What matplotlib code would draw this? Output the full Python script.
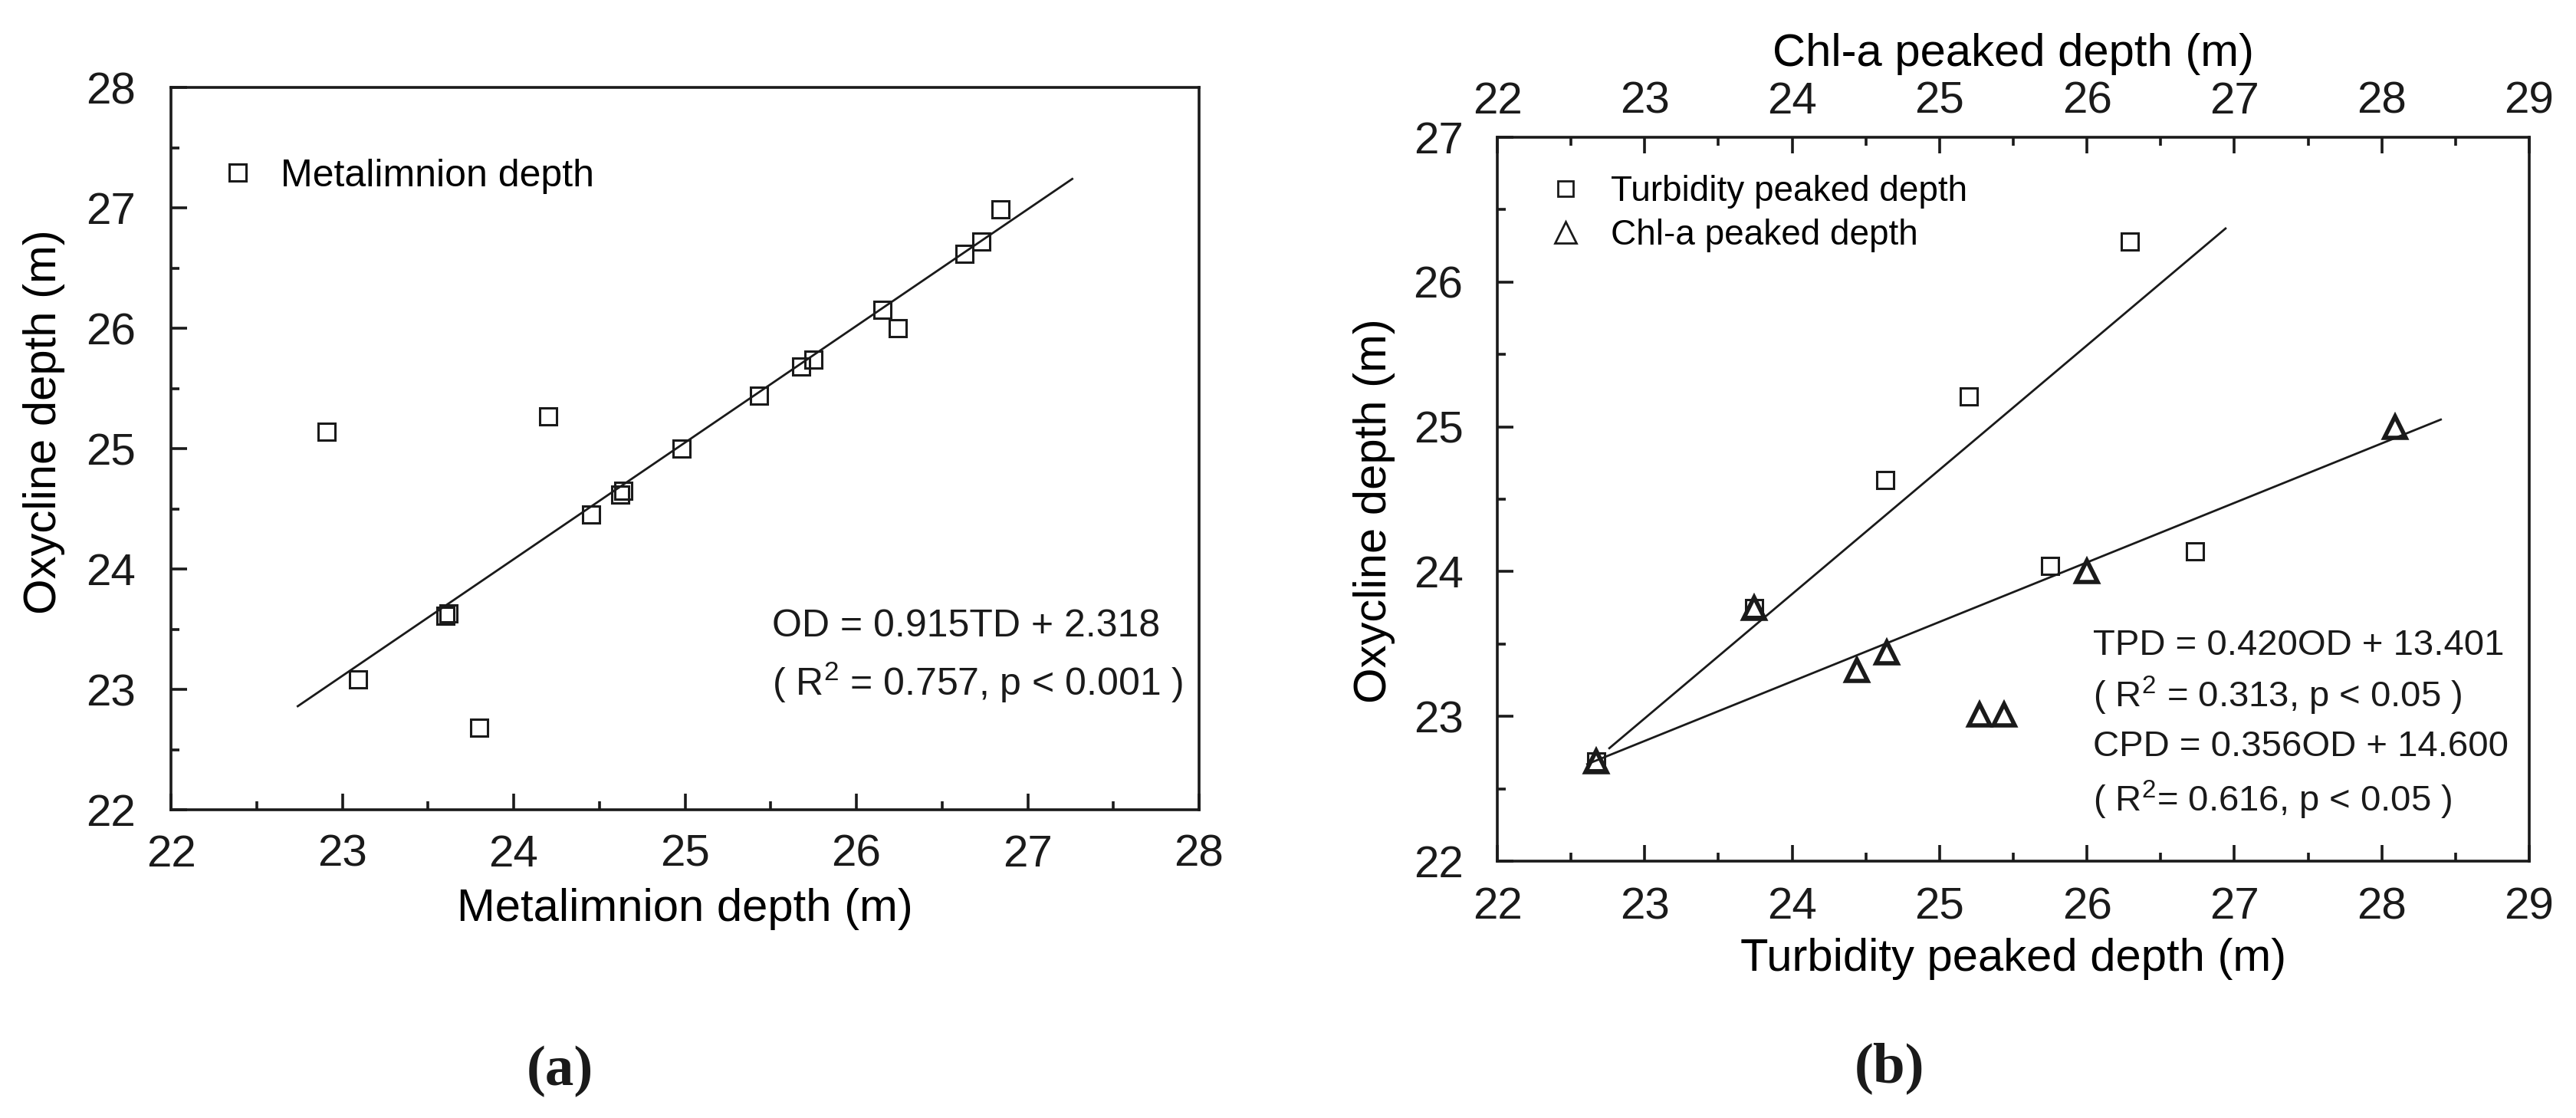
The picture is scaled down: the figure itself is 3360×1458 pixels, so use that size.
import matplotlib
matplotlib.use("Agg")
import matplotlib.pyplot as plt
from matplotlib.lines import Line2D
from matplotlib.ticker import MultipleLocator

plt.rcParams['font.family'] = ['Liberation Sans', 'DejaVu Sans']
plt.rcParams['mathtext.fontset'] = 'custom'
plt.rcParams['mathtext.rm'] = 'Liberation Sans'
plt.rcParams['mathtext.it'] = 'Liberation Sans:italic'

# ---------------- data: panel (a) ----------------
meta_x = [22.91, 23.09, 23.60, 23.62, 23.80, 24.20, 24.45, 24.62, 24.64, 24.98,
          25.43, 25.68, 25.75, 26.15, 26.24, 26.63, 26.73, 26.84]
meta_y = [25.14, 23.08, 23.61, 23.63, 22.68, 25.27, 24.45, 24.62, 24.65, 25.00,
          25.44, 25.68, 25.74, 26.15, 26.00, 26.62, 26.72, 26.99]
fit_a_x = [22.74, 27.26]
fit_a_y = [22.86, 27.24]

# ---------------- data: panel (b) ----------------
turb_x = [22.67, 23.74, 24.63, 25.20, 25.75, 26.29, 26.73]
turb_y = [22.69, 23.75, 24.63, 25.21, 24.04, 26.28, 24.14]
chl_x = [22.67, 23.74, 24.44, 24.64, 25.27, 25.44, 26.00, 28.09]
chl_y = [22.69, 23.75, 23.32, 23.44, 23.01, 23.01, 24.00, 25.00]
fit_turb_x = [22.76, 26.94]
fit_turb_y = [22.78, 26.37]
fit_chl_x = [22.61, 28.40]
fit_chl_y = [22.67, 25.05]

ticks_a = [22, 23, 24, 25, 26, 27, 28]
ticks_bx = [22, 23, 24, 25, 26, 27, 28, 29]
ticks_by = [22, 23, 24, 25, 26, 27]

eq_a = ["OD = 0.915TD + 2.318", "( R$^2$ = 0.757, p < 0.001 )"]
eq_b = ["TPD = 0.420OD + 13.401", "( R$^2$ = 0.313, p < 0.05 )",
        "CPD = 0.356OD + 14.600", "( R$^2$= 0.616, p < 0.05 )"]

INK = '#1a1a1a'
W, H = 3360, 1458
fig = plt.figure(figsize=(W / 200, H / 200), dpi=200)


def px_axes(l, r, t, b):
    return [l / W, 1 - b / H, (r - l) / W, (b - t) / H]


def style(ax, top=False):
    for s in ax.spines.values():
        s.set_linewidth(1.3)
        s.set_color(INK)
    ax.tick_params(which='both', direction='in', width=1.3, color=INK,
                   labelcolor=INK, top=False, right=False)
    ax.tick_params(which='major', length=7.5)
    ax.tick_params(which='minor', length=4)
    ax.xaxis.set_minor_locator(MultipleLocator(0.5))
    ax.yaxis.set_minor_locator(MultipleLocator(0.5))


# ---------------- panel (a) ----------------
ax = fig.add_axes(px_axes(223, 1564, 114, 1056))
style(ax)
ax.set_xlim(22, 28)
ax.set_ylim(22, 28)
ax.set_xticks(ticks_a)
ax.set_yticks(ticks_a)
ax.tick_params(axis='x', labelsize=21, pad=11.5)
ax.tick_params(axis='y', labelsize=21, pad=16.5)
ax.plot(fit_a_x, fit_a_y, color=INK, lw=1.0, zorder=2)
ax.plot(meta_x, meta_y, ls='none', marker='s', ms=8, mfc='none', mec=INK,
        mew=1.1, zorder=3)
ax.set_xlabel("Metalimnion depth (m)", fontsize=21.5)
ax.set_ylabel("Oxycline depth (m)", fontsize=21.5)
ax.xaxis.set_label_coords(0.5, -0.108)
ax.yaxis.set_label_coords(-0.103, 0.537)
h_a = [Line2D([], [], ls='none', marker='s', ms=8, mfc='none', mec=INK, mew=1.1)]
ax.legend(h_a, ["Metalimnion depth"], loc='center left', frameon=False,
          bbox_to_anchor=(0.046, 0.877), fontsize=18, borderpad=0,
          borderaxespad=0, handlelength=1.0, handletextpad=0.62)
for txt, yy in zip(eq_a, [23.52, 23.06]):
    ax.text(25.51, yy, txt, fontsize=18, color=INK, ha='left', va='center')

# ---------------- panel (b) ----------------
bx = fig.add_axes(px_axes(1953, 3299, 179, 1123))
style(bx)
bx.set_xlim(22, 29)
bx.set_ylim(22, 27)
bx.set_xticks(ticks_bx)
bx.set_yticks(ticks_by)
bx.tick_params(axis='x', labelsize=21, pad=12)
bx.tick_params(axis='y', labelsize=21, pad=16)
bx.plot(fit_turb_x, fit_turb_y, color=INK, lw=1.0, zorder=2)
bx.plot(turb_x, turb_y, ls='none', marker='s', ms=8, mfc='none', mec=INK,
        mew=1.1, zorder=3)
bx.set_xlabel("Turbidity peaked depth (m)", fontsize=21.5)
bx.set_ylabel("Oxycline depth (m)", fontsize=21.5)
bx.xaxis.set_label_coords(0.5, -0.106)
bx.yaxis.set_label_coords(-0.0988, 0.484)

tx = bx.twiny()
tx.set_xlim(22, 29)
tx.set_xticks(ticks_bx)
tx.xaxis.set_minor_locator(MultipleLocator(0.5))
for s in tx.spines.values():
    s.set_visible(False)
tx.tick_params(which='both', direction='in', width=1.3, color=INK,
               labelcolor=INK, top=True, bottom=False, labelsize=21, pad=7)
tx.tick_params(which='major', length=7.5)
tx.tick_params(which='minor', length=4)
tx.plot(fit_chl_x, fit_chl_y, color=INK, lw=1.0, zorder=2)
tx.plot(chl_x, chl_y, ls='none', marker='^', ms=10, mfc='none', mec=INK,
        mew=2.0, zorder=4)
tx.set_xlabel("Chl-a peaked depth (m)", fontsize=21.5)
tx.xaxis.set_label_coords(0.5, 1.0985)
tx.set_ylim(22, 27)

h_b = [Line2D([], [], ls='none', marker='s', ms=7.5, mfc='none', mec=INK, mew=1.0),
       Line2D([], [], ls='none', marker='^', ms=10, mfc='none', mec=INK, mew=1.0)]
tx.legend(h_b, ["Turbidity peaked depth", "Chl-a peaked depth"],
          loc='center left', frameon=False, bbox_to_anchor=(0.049, 0.8946),
          fontsize=16.5, borderpad=0, borderaxespad=0, handlelength=1.0,
          handletextpad=0.8, labelspacing=0.3)
for txt, yy in zip(eq_b, [23.49, 23.14, 22.79, 22.42]):
    bx.text(26.04, yy, txt, fontsize=17, color=INK, ha='left', va='center')

# ---------------- panel tags ----------------
fig.text(730 / W, 1 - 1397 / H, "(a)", fontsize=27, fontweight='bold',
         family=['Liberation Serif', 'DejaVu Serif'], ha='center', va='center',
         color=INK)
fig.text(2465 / W, 1 - 1393 / H, "(b)", fontsize=27, fontweight='bold',
         family=['Liberation Serif', 'DejaVu Serif'], ha='center', va='center',
         color=INK)

fig.savefig("out.png", dpi=200, facecolor='white')
